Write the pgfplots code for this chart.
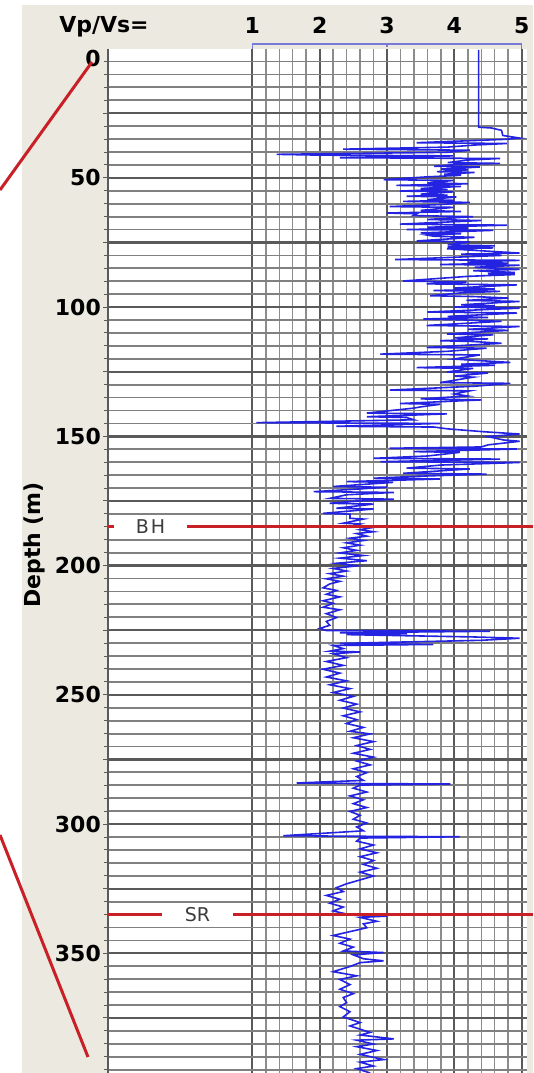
\documentclass[border=0pt]{standalone}
\usepackage{fontspec}
\setmainfont{DejaVu Sans}
\usepackage{pgfplots}
\pgfplotsset{compat=1.18}
\definecolor{beige}{RGB}{236,233,224}
\definecolor{logred}{RGB}{200,32,38}
\definecolor{logblue}{RGB}{35,35,225}
\definecolor{gridmaj}{RGB}{90,90,90}
\definecolor{gridmin}{RGB}{128,128,128}
\definecolor{gridminx}{RGB}{140,140,140}
\definecolor{brack}{RGB}{120,120,215}
\definecolor{lbl}{RGB}{60,60,60}
\newcommand{\bigbold}{\bfseries\fontsize{22}{26}\selectfont}
\begin{document}
\begin{tikzpicture}
\useasboundingbox (0,0) rectangle (533pt,1073pt);
\fill[white] (0,0) rectangle (533pt,1073pt);
\fill[beige] (22pt,0) rectangle (533pt,1068pt);
\begin{axis}[
  at={(108pt,0pt)}, anchor=south west,
  scale only axis, width=419pt, height=1024.4pt,
  xmin=-1.143, xmax=5.079, ymin=0, ymax=396.3,
  y dir=reverse,
  axis background/.style={fill=white},
  clip=false,
  axis x line*=top, axis y line*=left,
  x axis line style={draw=none},
  y axis line style={draw=gridmaj, line width=1.5pt},
  xtick={1,2,3,4,5},
  minor xtick={1.2,1.4,1.6,1.8,2.2,2.4,2.6,2.8,3.2,3.4,3.6,3.8,4.2,4.4,4.6,4.8},
  xticklabels={},
  xtick style={draw=none},
  ytick={25,50,...,375},
  minor ytick={5,10,15,20,30,35,40,45,55,60,65,70,80,85,90,95,105,110,115,120,130,135,140,145,155,160,165,170,180,185,190,195,205,210,215,220,230,235,240,245,255,260,265,270,280,285,290,295,305,310,315,320,330,335,340,345,355,360,365,370,380,385,390,395},
  yticklabels={,50,,100,,150,,200,,250,,300,,350,},
  yticklabel style={font=\bigbold, inner sep=0pt, xshift=-2pt},
  ytick style={draw=gridmaj, line width=1pt},
  tick align=outside,
  major tick length=5pt, minor tick length=4pt,
  grid=both,
  major x grid style={draw=gridmaj, line width=2pt},
  minor x grid style={draw=gridminx, line width=1.5pt},
  major y grid style={draw=gridmaj, line width=2.3pt},
  minor y grid style={draw=gridmin, line width=1.8pt},
]
\addplot[logblue, line width=1.6pt] coordinates {
(4.36,0.5) (4.36,30.4) (4.55,30.7) (4.70,31.6) (4.72,33.6) (4.97,34.6) (4.75,35.1)
(3.44,36.4) (4.78,36.7) (4.3,37.3) (3.9,38.1) (2.35,38.9) (4.23,39.3) (3.9,40.1) (1.36,40.9) (2.0,41.2) (3.98,41.5) (2.3,42.2) (4.68,42.5) (4.2,43.1) (3.9,44.1) (4.68,44.4) (4.0,44.9) (3.7,45.5) (4.38,45.8)
(3.8,46.6) (4.2,46.9) (3.74,47.6) (4.3,47.9) (3.85,48.6) (4.1,49.0) (3.6,49.6) (2.95,50.7) (3.99,51.0) (3.6,51.9) (4.2,52.3) (3.14,52.9) (4.1,53.3) (3.5,54.1) (3.9,54.5) (3.19,55.1) (3.99,55.4) (3.5,56.3) (3.9,56.7) (3.29,57.1) (4.03,57.4) (3.6,58.4) (4.0,58.7) (3.24,59.1) (4.23,59.5) (3.8,60.3) (3.04,61.1) (3.99,61.4) (3.5,62.6) (4.1,63.0) (3.00,63.6) (3.44,63.9) (3.39,64.6) (4.28,65.0) (3.6,66.1) (4.4,66.5) (3.19,67.9) (4.78,68.3) (3.6,69.1) (4.2,69.5) (3.29,70.0) (4.58,70.3) (3.5,71.3) (4.1,71.6) (3.59,72.1) (3.7,72.6) (4.3,73.0) (3.44,74.4) (4.23,74.8) (3.9,75.9) (4.6,76.3) (3.9,76.7) (4.58,77.1) (3.89,77.4) (4.97,79.1) (4.1,79.5) (4.7,80.0) (3.12,81.6) (4.97,81.9) (4.2,82.6) (4.8,83.0) (3.79,83.5) (4.97,83.8) (4.3,84.6) (4.97,85.4) (4.28,85.9) (4.9,86.6) (4.5,87.0) (4.9,87.4) (4.2,88.1) (3.24,89.9) (4.18,90.3) (3.59,91.0) (4.93,91.4) (4.0,92.6) (4.6,93.0) (3.69,93.6) (4.68,93.9) (4.1,94.5) (3.64,95.6) (4.28,95.9) (4.8,96.5) (4.18,97.4) (4.97,97.8) (4.1,99.1) (4.6,99.5) (3.99,100.0) (4.97,100.4) (3.6,101.9) (4.93,102.3) (3.9,103.6) (4.5,104.0) (3.54,104.6) (4.08,104.9) (4.7,105.5) (3.59,107.1) (4.97,107.5) (4.2,108.6) (4.8,109.0) (3.89,110.4) (4.58,110.7) (4.0,111.9) (4.5,112.3) (3.79,113.0) (4.28,113.3) (4.7,114.0) (3.59,115.6) (4.48,115.9) (3.9,117.1) (2.90,118.2) (4.38,118.5) (3.99,120.1) (4.83,121.4) (4.1,122.1) (4.6,122.5) (3.44,123.4) (4.28,123.7) (3.89,125.1) (4.5,125.5) (4.0,126.7) (4.28,127.1) (3.79,129.2) (4.83,129.5) (4.3,130.6) (3.04,132.1) (4.23,132.4) (4.0,133.6) (4.2,134.4) (3.5,135.5) (4.4,135.9)
(3.19,137.3) (3.79,137.6) (3.5,138.6) (3.39,139.1) (2.70,141.0) (3.89,141.3) (2.70,142.4) (3.29,142.7) (3.4,143.6) (1.06,144.7) (3.79,145.0) (2.25,146.1) (3.7,146.4) (3.9,147.1) (4.43,148.2) (4.97,149.1) (4.5,150.1) (4.73,151.4) (4.97,151.9) (4.5,153.3) (4.4,154.1) (3.04,154.6) (4.93,154.9) (3.4,155.9) (4.08,156.2) (3.6,157.6) (2.80,158.5) (4.68,158.8) (2.90,159.8) (4.97,160.1) (3.8,161.1) (3.29,162.3) (4.23,162.6) (3.24,164.3) (4.48,164.6) (3.5,165.4) (2.80,166.2) (3.79,166.5) (2.40,167.5) (3.09,167.8) (2.20,169.4) (3.0,169.7) (1.91,171.4) (3.1,171.7) (2.4,172.6) (2.15,174.0) (3.1,174.3) (2.5,175.1) (2.15,175.9) (2.8,176.2) (2.25,177.8) (2.8,178.1) (2.05,179.8) (2.45,180.1) (2.45,181.7) (2.65,182.0) (2.35,183.6) (2.6,183.9) (2.45,184.9) (2.80,185.2) (2.6,186.1) (2.80,186.9) (2.55,187.6) (2.7,188.6) (2.45,189.4) (2.65,190.3) (2.40,191.2) (2.6,192.1) (2.35,193.1) (2.55,194.1) (2.30,195.1) (2.65,196.1) (2.30,197.1) (2.7,198.1) (2.25,199.1)
(2.55,200.1) (2.2,201.1) (2.4,202.1) (2.15,203.1) (2.35,204.1) (2.1,205.1) (2.3,206.1) (2.15,207.1) (2.05,208.6) (2.25,209.6) (2.1,211.1) (2.3,212.1) (2.05,213.6) (2.2,214.6) (2.05,216.1) (2.3,217.1) (2.1,218.6) (2.25,220.1) (2.1,221.6) (2.15,223.1) (2.0,224.3) (2.1,225.1) (4.53,225.4) (3.34,225.7) (2.3,226.0) (3.3,226.3) (2.4,226.7) (4.28,227.6) (4.97,228.1) (4.4,228.9) (2.3,230.1) (3.69,230.5) (2.2,230.9) (2.35,232.1) (2.15,233.1) (2.6,233.4) (2.2,234.1) (2.4,235.6) (2.1,237.1) (2.35,238.6) (2.05,240.1) (2.3,241.6) (2.1,243.1) (2.4,244.6) (2.15,246.1) (2.45,247.6) (2.2,249.1) (2.5,250.6) (2.3,252.1) (2.55,253.6) (2.35,255.1) (2.6,256.6) (2.35,258.1) (2.55,259.6) (2.4,261.1)
(2.65,262.6) (2.45,264.1) (2.75,265.1) (2.5,266.6) (2.8,268.1) (2.55,269.6) (2.75,271.1) (2.5,272.6) (2.8,274.1) (2.55,275.6) (2.75,277.1) (2.5,278.6) (2.7,280.1) (2.55,281.6) (2.65,283.1) (1.66,284.1) (2.5,284.3) (3.94,284.5) (2.6,284.9) (2.5,286.1) (2.7,287.6) (2.45,289.1) (2.65,290.6) (2.5,292.1) (2.7,293.6) (2.45,295.1) (2.6,296.6) (2.5,298.1) (2.7,299.6) (2.55,301.1) (2.65,302.6) (1.46,304.5) (2.5,304.7) (4.08,304.9) (2.6,305.4) (2.55,306.6) (2.8,308.1) (2.6,309.6) (2.85,311.1) (2.6,312.6) (2.8,314.1) (2.65,315.6) (2.85,317.1) (2.6,318.6) (2.8,320.1) (2.6,321.6) (2.4,323.1) (2.25,324.6) (2.35,326.1) (2.1,327.6)
(2.3,329.1) (2.15,330.6) (2.35,332.1) (2.2,333.6) (2.45,335.1) (3.0,335.6) (2.6,336.1) (2.85,337.6) (2.65,338.6) (2.7,340.1) (2.45,341.6) (2.2,343.1) (2.45,344.5) (2.3,346.1) (2.5,347.6) (2.35,349.1) (2.95,349.7) (2.5,350.6) (2.65,352.1) (2.95,352.9) (2.6,353.6) (2.45,355.1) (2.2,357.1) (2.55,358.7) (2.3,360.1) (2.45,362.1) (2.3,363.9) (2.5,365.6) (2.35,367.1) (2.4,369.1) (2.3,370.6) (2.45,372.6) (2.35,374.6) (2.6,376.8) (2.45,378.1) (2.75,380.6) (2.6,381.6) (3.1,383.1) (2.55,383.6) (2.8,385.1) (2.55,386.1) (2.85,387.6) (2.6,389.1) (2.95,391.1) (2.6,392.1) (2.8,393.6) (2.55,394.6) (2.75,396.3)
};
% BH and SR markers
\draw[logred, line width=3pt] (axis cs:-1.143,185) -- (axis cs:5.168,185);
\node[fill=white, minimum width=73pt, inner sep=1.5pt, text=lbl, font=\fontsize{19}{21}\selectfont] at (axis cs:-0.511,185) {B\kern2pt H};
\draw[logred, line width=3pt] (axis cs:-1.143,335) -- (axis cs:5.168,335);
\node[fill=white, minimum width=71pt, inner sep=1.5pt, text=lbl, font=\fontsize{19}{21}\selectfont] at (axis cs:0.186,335) {SR};
% scale bracket
\draw[brack, line width=1.3pt] (axis cs:1,0) -- (axis cs:1,-1.8) -- (axis cs:5,-1.8) -- (axis cs:5,0);
\draw[brack, line width=1.3pt] (axis cs:3,-1.8) -- (axis cs:3,-0.8);
% top scale labels
\node[font=\bigbold, anchor=base] at (axis cs:1,-6.0) {1};
\node[font=\bigbold, anchor=base] at (axis cs:2,-6.0) {2};
\node[font=\bigbold, anchor=base] at (axis cs:3,-6.0) {3};
\node[font=\bigbold, anchor=base] at (axis cs:4,-6.0) {4};
\node[font=\bigbold, anchor=base] at (axis cs:5,-6.0) {5};
\node[font=\bigbold, anchor=east, inner sep=0pt] at (axis cs:-1.143,4.0) [xshift=-7pt] {0};
\end{axis}
\draw[logred, line width=3pt] (92pt,1011pt) -- (0pt,883pt);
\draw[logred, line width=3pt] (0pt,238pt) -- (88pt,16pt);
\node[font=\bigbold, rotate=90] at (34pt,528pt) {Depth (m)};
\node[font=\bigbold, anchor=base] at (104pt,1040pt) {Vp/Vs=};
\end{tikzpicture}
\end{document}
